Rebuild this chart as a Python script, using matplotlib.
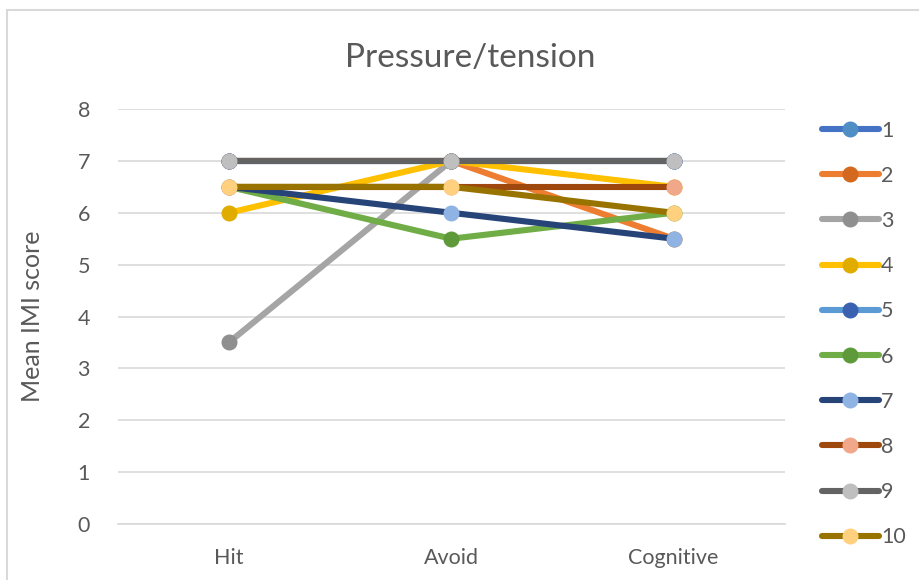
import matplotlib
matplotlib.use('Agg')
import matplotlib.pyplot as plt
from matplotlib.patches import Rectangle

# Chart data
categories = ['Hit', 'Avoid', 'Cognitive']
series_names = ['1', '2', '3', '4', '5', '6', '7', '8', '9', '10']
s1 = [7, 7, 7]
s2 = [7, 7, 5.5]
s3 = [3.5, 7, 7]
s4 = [6, 7, 6.5]
s5 = [7, 7, 7]
s6 = [6.5, 5.5, 6]
s7 = [6.5, 6, 5.5]
s8 = [6.5, 6.5, 6.5]
s9 = [7, 7, 7]
s10 = [6.5, 6.5, 6]
all_series = [s1, s2, s3, s4, s5, s6, s7, s8, s9, s10]

# Office-style line / marker colours
line_colors = ['#4472C4', '#ED7D31', '#A5A5A5', '#FFC000', '#5B9BD5',
               '#70AD47', '#264478', '#9E480E', '#636363', '#997300']
marker_colors = ['#4F8FC6', '#D2691E', '#8F8F8F', '#E0AC00', '#3A62B0',
                 '#5E9A3A', '#8FB4E3', '#F1A78A', '#BFBFBF', '#FFD17F']

plt.rcParams['font.family'] = ['Lato', 'DejaVu Sans']
text_color = '#595959'

fig = plt.figure(figsize=(9.2, 5.8), dpi=100)
ax = fig.add_axes([0.128, 0.0966, 0.725, 0.7154])

x = list(range(len(categories)))
for name, vals, lc, mc in zip(series_names, all_series, line_colors, marker_colors):
    ax.plot(x, vals, color=lc, linewidth=4.4, marker='o', markersize=10.5,
            markerfacecolor=mc, markeredgecolor=mc, label=name,
            solid_capstyle='round')

ax.set_xlim(-0.5, 2.5)
ax.set_ylim(0, 8)
ax.set_xticks(x)
ax.set_xticklabels(categories)
ax.set_yticks(range(0, 9))
ax.grid(axis='y', color='#D9D9D9', linewidth=1.2)
ax.set_axisbelow(True)
for side in ['top', 'right', 'left']:
    ax.spines[side].set_visible(False)
ax.spines['bottom'].set_color('#D9D9D9')
ax.spines['bottom'].set_linewidth(1.2)
ax.tick_params(axis='both', length=0, colors=text_color, labelsize=15.5)
ax.tick_params(axis='x', pad=17)
ax.tick_params(axis='y', pad=20)
ax.set_ylabel('Mean IMI score', color=text_color, fontsize=18, labelpad=24)

fig.text(0.511, 0.9, 'Pressure/tension', ha='center', va='center',
         fontsize=24, color=text_color)

leg = fig.legend(loc='upper left', bbox_to_anchor=(0.893, 0.792), frameon=False,
                 fontsize=15.5, handlelength=2.65, handletextpad=0.12,
                 labelspacing=1.17, borderaxespad=0, borderpad=0)
for t in leg.get_texts():
    t.set_color(text_color)

fig.patches.append(Rectangle((0.0076, -0.1), 1.2, 1.083, transform=fig.transFigure,
                             fill=False, edgecolor='#D9D9D9', linewidth=1.5))

fig.savefig('out.png', dpi=100)
